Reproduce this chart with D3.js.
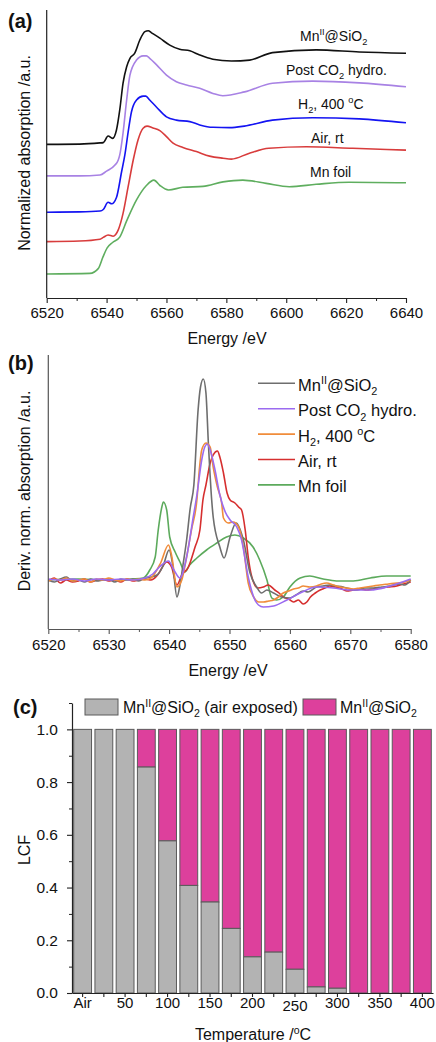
<!DOCTYPE html>
<html><head><meta charset="utf-8">
<script src="https://cdn.jsdelivr.net/npm/d3@7"></script>
<style>
body{margin:0;background:#fff}
svg{display:block}
text{font-family:"Liberation Sans",Arial,Helvetica,sans-serif;fill:#111}
</style>
</head><body>
<svg id="chart" width="436" height="1042"></svg>
<script>
// ---------------- Panel (a): XANES spectra (energy eV, normalized absorption incl. offset)
const xanesMnSiO2 = [[6520,5.12],[6531,5.13],[6537.8,5.17],[6538.9,5.18],[6540.5,5.40],[6542,5.32],[6543.3,5.60],[6544.4,6.27],[6545.5,7.16],[6546.7,7.71],[6547.8,7.99],[6549.4,8.16],[6551.1,8.60],[6552.8,8.88],[6553.9,8.91],[6555,8.84],[6557.8,8.66],[6561.1,8.43],[6564.4,8.29],[6567.8,8.24],[6571.1,8.10],[6575.5,7.96],[6581.7,7.90],[6587.8,7.93],[6595.4,8.18],[6610,8.27],[6624.4,8.20],[6640,8.16]];
const xanesPost = [[6520,4.07],[6531,4.07],[6537.8,4.10],[6540,4.23],[6542.8,4.43],[6543.9,4.60],[6544.4,4.77],[6545.5,5.50],[6546.7,6.60],[6547.8,7.43],[6550,7.93],[6552.2,8.07],[6553.3,8.07],[6554.4,7.99],[6556.7,7.77],[6560,7.43],[6563.3,7.21],[6566.7,7.10],[6571.1,6.99],[6575.5,6.82],[6578.8,6.74],[6586.1,6.87],[6595.4,7.16],[6608.8,7.23],[6624.4,7.17],[6640,7.04]];
const xanesH2 = [[6520,2.86],[6531,2.87],[6537.8,2.90],[6538.9,2.95],[6540.5,3.19],[6541.7,3.14],[6543.3,3.35],[6545,4.20],[6546.1,4.77],[6547.2,5.53],[6548.3,6.20],[6550,6.60],[6552.2,6.73],[6553.1,6.73],[6554.4,6.60],[6556.7,6.36],[6560,6.04],[6563.3,5.93],[6567.8,5.88],[6571.1,5.77],[6575.5,5.69],[6581.1,5.68],[6586,5.73],[6595.4,5.93],[6608.8,6.01],[6624.4,5.97],[6640,5.84]];
const xanesAir = [[6520,1.88],[6531,1.90],[6537.8,1.96],[6538.9,2.02],[6540.5,2.10],[6542.2,2.06],[6543.9,2.27],[6545.5,2.82],[6547.2,3.71],[6548.9,4.60],[6550.5,5.27],[6552.2,5.66],[6553.5,5.73],[6555.5,5.67],[6557.8,5.58],[6560,5.38],[6562.2,5.16],[6565.5,5.02],[6570,4.88],[6574.4,4.73],[6578.9,4.66],[6581.7,4.63],[6587.5,4.82],[6594.2,4.99],[6606.7,5.04],[6622.2,4.99],[6640,4.93]];
const xanesFoil = [[6520,0.80],[6534.4,0.82],[6537.2,0.98],[6538.8,1.37],[6540.2,1.67],[6542,1.85],[6544.4,2.03],[6546.7,2.57],[6550,3.27],[6553.3,3.75],[6555.8,3.93],[6557.8,3.75],[6560.7,3.60],[6565.4,3.69],[6572.2,3.72],[6578.9,3.87],[6585.5,3.93],[6593.3,3.82],[6601,3.71],[6610,3.79],[6621,3.86],[6640,3.84]];
const xTicksA = [6520,6540,6560,6580,6600,6620,6640];

// ---------------- Panel (b): derivative spectra
const derivMnSiO2 = [[6520,0],[6521,-0.02],[6522,0.01],[6523,0.03],[6524,-0.01],[6525,0],[6526,-0.02],[6527,0.01],[6528,-0.01],[6529,0],[6530,0.01],[6531,-0.02],[6532,0.01],[6533,0],[6534,0.01],[6535,-0.01],[6536,0.02],[6537,0.03],[6538,0.05],[6539,0.14],[6540,0.30],[6540.6,0.15],[6541.3,-0.17],[6541.8,-0.05],[6542.3,0.15],[6542.9,0.40],[6543.5,0.72],[6544.1,0.95],[6544.8,1.70],[6545.2,1.93],[6545.66,2.01],[6546.1,1.87],[6546.5,1.37],[6547.05,0.80],[6547.3,0.63],[6548.4,0.33],[6549.1,0.22],[6550.1,0.43],[6551.1,0.57],[6552.3,0.40],[6553.4,0.07],[6554.5,-0.07],[6555.3,-0.13],[6556.2,-0.10],[6557.3,-0.13],[6558.6,-0.17],[6560,-0.18],[6561,-0.15],[6562.2,-0.11],[6563,-0.12],[6564.4,-0.07],[6565.5,-0.06],[6566.6,-0.05],[6567.7,-0.06],[6568.8,-0.07],[6570,-0.09],[6571.1,-0.10],[6572.4,-0.08],[6573.8,-0.08],[6575.2,-0.07],[6576.6,-0.06],[6578.2,-0.04],[6579,-0.05],[6580,0.0]];
const derivPost = [[6520,0.01],[6522,0],[6524,0.01],[6526,-0.01],[6528,0.01],[6530,0],[6532,0.01],[6534,0],[6536,0.02],[6537.3,0.06],[6538.4,0.13],[6539.9,0.19],[6540.8,0.10],[6541.8,0.02],[6542.9,0.23],[6544,0.63],[6544.6,0.85],[6545.4,1.20],[6545.9,1.33],[6546.3,1.36],[6546.8,1.30],[6547.6,1.10],[6548.4,0.85],[6549.3,0.68],[6550.1,0.60],[6551.2,0.53],[6552,0.40],[6553.1,0.03],[6554,-0.17],[6554.8,-0.25],[6555.6,-0.27],[6557.3,-0.26],[6559.5,-0.20],[6561.7,-0.13],[6564.4,-0.07],[6567.2,-0.08],[6570,-0.10],[6573.3,-0.10],[6576.6,-0.06],[6580,0.01]];
const derivH2 = [[6520,-0.01],[6521,0.01],[6522,0],[6523,0.02],[6524,-0.01],[6525,0],[6526,0.01],[6527,-0.02],[6528,0.01],[6529,0],[6530,0.02],[6531,0],[6532,-0.01],[6533,0.01],[6534,0],[6535,0.01],[6536,0.0],[6537,0.02],[6538.6,0.17],[6539.9,0.35],[6540.4,0.25],[6541.3,-0.07],[6542.1,0],[6542.9,0.23],[6543.7,0.50],[6544.6,0.80],[6545,1.10],[6545.4,1.30],[6546.1,1.37],[6546.8,1.33],[6547.3,1.13],[6548,0.93],[6548.7,0.77],[6549,0.62],[6549.8,0.57],[6550.6,0.58],[6551.5,0.53],[6552.3,0.33],[6553.1,-0.03],[6554,-0.17],[6554.8,-0.22],[6555.6,-0.22],[6556.5,-0.21],[6557.3,-0.20],[6558.1,-0.17],[6558.9,-0.13],[6559.8,-0.11],[6560.6,-0.09],[6561.4,-0.08],[6562.2,-0.06],[6563.3,-0.07],[6564.4,-0.06],[6565.2,-0.04],[6566.1,-0.03],[6567.2,-0.05],[6568.3,-0.07],[6569.4,-0.08],[6570.5,-0.09],[6571.6,-0.08],[6572.7,-0.07],[6573.8,-0.06],[6574.9,-0.05],[6576.3,-0.04],[6577.7,-0.03],[6579,-0.02],[6580,0]];
const derivAir = [[6520,-0.01],[6521,0.02],[6522,-0.03],[6523,0],[6524,-0.02],[6525,-0.01],[6526,0.01],[6527,-0.02],[6528,0],[6529,0.01],[6530,-0.01],[6531,0],[6532,-0.02],[6533,0.01],[6534,-0.01],[6535,0],[6536,0.01],[6537,0],[6538.1,0.05],[6539.6,0.18],[6540.4,0.13],[6541.3,-0.05],[6542.1,0.05],[6543.2,0.13],[6544.3,0.33],[6545.1,0.50],[6545.6,0.80],[6546.1,0.95],[6546.8,1.17],[6547.3,1.25],[6548,1.29],[6548.4,1.23],[6549,1.07],[6549.6,0.87],[6550.1,0.80],[6550.9,0.77],[6551.5,0.73],[6552,0.70],[6552.6,0.50],[6553.1,0.23],[6553.7,0.03],[6554.7,-0.08],[6555.6,-0.07],[6556.4,-0.05],[6557.5,-0.10],[6558.2,-0.13],[6558.9,-0.17],[6559.8,-0.19],[6560.6,-0.22],[6561.4,-0.20],[6562.2,-0.24],[6562.8,-0.22],[6563.4,-0.17],[6564.2,-0.13],[6565,-0.10],[6565.8,-0.08],[6566.6,-0.06],[6567.5,-0.07],[6568.3,-0.08],[6569.4,-0.11],[6570.5,-0.10],[6571.6,-0.09],[6572.7,-0.10],[6573.8,-0.09],[6574.9,-0.08],[6576.3,-0.07],[6577.7,-0.06],[6578.8,-0.04],[6580,-0.02]];
const derivFoil = [[6520,0],[6525,0.01],[6530,0],[6534,0.01],[6535.7,0.02],[6536.8,0.10],[6537.7,0.23],[6538.2,0.50],[6538.8,0.73],[6539.05,0.78],[6539.6,0.70],[6540.1,0.43],[6541,0.28],[6541.8,0.18],[6542.6,0.08],[6543.4,0.15],[6544.6,0.22],[6546.2,0.30],[6547.9,0.37],[6549.5,0.43],[6550.9,0.45],[6552.3,0.42],[6553.9,0.33],[6555,0.20],[6556.2,0],[6557,-0.18],[6557.8,-0.20],[6558.9,-0.17],[6560,-0.07],[6561.7,0.02],[6563.3,0.04],[6565.5,0.01],[6567.7,-0.01],[6570.5,-0.01],[6573.3,0.02],[6576,0.04],[6580,0.04]];
const xTicksB = [6520,6530,6540,6550,6560,6570,6580];

// ---------------- Panel (c): LCF fractions
const temperatures = ["Air","25","50","75","100","125","150","175","200","225","250","275","300","325","350","375","400"];
const tempTickLabels = ["Air","50","100","150","200","250","300","350","400"];
const fracAirExposed = [1,1,1,0.857,0.577,0.408,0.345,0.245,0.137,0.155,0.090,0.023,0.018,0,0,0,0];
const fracMnSiO2 = [0,0,0,0.143,0.423,0.592,0.655,0.755,0.863,0.845,0.910,0.977,0.982,1,1,1,1];
const yTicksC = [0,0.2,0.4,0.6,0.8,1.0];

// ---------------- helpers
const svg = d3.select("#chart");
const FONT = '"Liberation Sans",Arial,sans-serif';

function rich(textSel, parts, fs){
  let shift = 0;
  parts.forEach(p=>{
    const target = p.sup ? -0.4*fs : (p.sub ? 0.28*fs : 0);
    const t = textSel.append("tspan").text(p.t).attr("dy", (target-shift).toFixed(2));
    if(p.sup||p.sub) t.attr("font-size", (0.66*fs).toFixed(2));
    shift = target;
  });
  return textSel;
}
const MN = [{t:"Mn"},{t:"II",sup:true},{t:"@SiO"},{t:"2",sub:true}];
const POST = [{t:"Post CO"},{t:"2",sub:true},{t:" hydro."}];
const H2 = [{t:"H"},{t:"2",sub:true},{t:", 400 "},{t:"o",sup:true},{t:"C"}];
const AIR = [{t:"Air, rt"}];
const FOIL = [{t:"Mn foil"}];

function styleAxis(g, color){
  g.selectAll("path.domain").attr("stroke", color).attr("stroke-width",1.2);
  g.selectAll(".tick line").attr("stroke", color).attr("stroke-width",1.1);
  g.selectAll(".tick text").attr("font-family",FONT).attr("fill","#111");
}

// ================= Panel (a)
{
  const x = d3.scaleLinear().domain([6520,6640]).range([46.7,406]);
  const y = d3.scaleLinear().domain([0,9.6]).range([298,10]);
  const line = d3.line().x(d=>x(d[0])).y(d=>y(d[1])).curve(d3.curveMonotoneX);
  const series = [
    {d:xanesFoil, c:"#5FAE5F"},
    {d:xanesAir, c:"#D83C3C"},
    {d:xanesH2, c:"#1414F2"},
    {d:xanesPost, c:"#A882E4"},
    {d:xanesMnSiO2, c:"#111111"}
  ];
  series.forEach(s=>svg.append("path").datum(s.d).attr("d",line)
    .attr("fill","none").attr("stroke",s.c).attr("stroke-width",1.6));

  const gx = svg.append("g").attr("transform",`translate(0,${y.range()[0]})`)
    .call(d3.axisBottom(x).tickValues(xTicksA).tickFormat(d3.format("d")).tickSize(5).tickPadding(4.5).tickSizeOuter(0));
  gx.selectAll(".tick text").attr("font-size",15);
  styleAxis(gx,"#222");
  svg.append("g").attr("transform",`translate(0,${y.range()[0]})`)
    .call(d3.axisBottom(x).tickValues([6530,6550,6570,6590,6610,6630]).tickFormat("").tickSize(3).tickSizeOuter(0))
    .call(g=>{g.select("path.domain").remove(); g.selectAll("line").attr("stroke","#222");});
  svg.append("line").attr("x1",x.range()[0]).attr("x2",x.range()[0]).attr("y1",y.range()[0]).attr("y2",y.range()[1])
    .attr("stroke","#222").attr("stroke-width",1.2);

  const labs = [[MN,300,41],[POST,286,75],[H2,298,109],[AIR,311,143],[FOIL,310,177]];
  labs.forEach(l=>rich(svg.append("text").attr("x",l[1]).attr("y",l[2]).attr("font-size",14),l[0],14));

  svg.append("text").attr("x",227).attr("y",344).attr("text-anchor","middle").attr("font-size",16).text("Energy /eV");
  svg.append("text").attr("transform","translate(30,153) rotate(-90)").attr("text-anchor","middle").attr("font-size",16).text("Normalized absorption /a.u.");
  svg.append("text").attr("x",8).attr("y",28).attr("font-size",20).attr("font-weight","bold").text("(a)");
}

// ================= Panel (b)
{
  const x = d3.scaleLinear().domain([6520,6580]).range([48.3,410.7]);
  const y = d3.scaleLinear().domain([-0.49,2.25]).range([629,355]);
  const line = d3.line().x(d=>x(d[0])).y(d=>y(d[1])).curve(d3.curveMonotoneX);
  const series = [
    {d:derivFoil, c:"#5CAA5C"},
    {d:derivAir, c:"#D62F2F"},
    {d:derivMnSiO2, c:"#6E6E6E"},
    {d:derivH2, c:"#F08C3A"},
    {d:derivPost, c:"#9B6BF0"}
  ];
  series.forEach(s=>svg.append("path").datum(s.d).attr("d",line)
    .attr("fill","none").attr("stroke",s.c).attr("stroke-width",1.6));

  const gx = svg.append("g").attr("transform",`translate(0,${y.range()[0]})`)
    .call(d3.axisBottom(x).tickValues(xTicksB).tickFormat(d3.format("d")).tickSize(5).tickPadding(5.3).tickSizeOuter(0));
  gx.selectAll(".tick text").attr("font-size",15);
  styleAxis(gx,"#555");
  svg.append("g").attr("transform",`translate(0,${y.range()[0]})`)
    .call(d3.axisBottom(x).tickValues([6525,6535,6545,6555,6565,6575]).tickFormat("").tickSize(3).tickSizeOuter(0))
    .call(g=>{g.select("path.domain").remove(); g.selectAll("line").attr("stroke","#555");});
  svg.append("line").attr("x1",x.range()[0]).attr("x2",x.range()[0]).attr("y1",y.range()[0]).attr("y2",y.range()[1])
    .attr("stroke","#555").attr("stroke-width",1.2);

  // legend
  const legOrder = [
    {c:"#6E6E6E", lab:MN},{c:"#9B6BF0", lab:POST},{c:"#F08C3A", lab:H2},{c:"#D62F2F", lab:AIR},{c:"#5CAA5C", lab:FOIL}
  ];
  legOrder.forEach((l,i)=>{
    const ly = 383.3 + i*25.4;
    svg.append("line").attr("x1",258).attr("x2",295).attr("y1",ly).attr("y2",ly).attr("stroke",l.c).attr("stroke-width",1.6);
    rich(svg.append("text").attr("x",298).attr("y",ly+7.5).attr("font-size",16.5), l.lab, 16.5);
  });

  svg.append("text").attr("x",228).attr("y",676).attr("text-anchor","middle").attr("font-size",16).text("Energy /eV");
  svg.append("text").attr("transform","translate(30,491) rotate(-90)").attr("text-anchor","middle").attr("font-size",16).text("Deriv. norm. absorption /a.u.");
  svg.append("text").attr("x",8).attr("y",370).attr("font-size",20).attr("font-weight","bold").text("(b)");
}

// ================= Panel (c)
{
  const x = d3.scaleBand().domain(temperatures).range([72,433]).paddingInner(0.16).paddingOuter(0.08);
  const y = d3.scaleLinear().domain([0,1.1]).range([993,703]);
  const bars = svg.append("g");
  temperatures.forEach((t,i)=>{
    const a = fracAirExposed[i], m = fracMnSiO2[i];
    if(m>0) bars.append("rect").attr("x",x(t)).attr("width",x.bandwidth())
      .attr("y",y(a+m)).attr("height",y(a)-y(a+m)).attr("fill","#DD409C").attr("stroke","#5a5a5a").attr("stroke-width",1);
    if(a>0) bars.append("rect").attr("x",x(t)).attr("width",x.bandwidth())
      .attr("y",y(a)).attr("height",y(0)-y(a)).attr("fill","#B3B3B3").attr("stroke","#5a5a5a").attr("stroke-width",1);
  });

  const gx = svg.append("g").attr("transform",`translate(0,${y.range()[0]})`)
    .call(d3.axisBottom(x).tickFormat(d=>tempTickLabels.includes(d)?d:"").tickSize(4).tickPadding(0).tickSizeOuter(0));
  gx.selectAll(".tick text").attr("font-size",15).attr("dy", d=>d==="250"?"0.95em":"0.71em");
  styleAxis(gx,"#222");
  const gy = svg.append("g").attr("transform",`translate(${x.range()[0]},0)`)
    .call(d3.axisLeft(y).tickValues(yTicksC).tickFormat(d3.format(".1f")).tickSize(5).tickPadding(9).tickSizeOuter(0));
  gy.selectAll(".tick text").attr("font-size",15.5);
  styleAxis(gy,"#222");
  svg.append("g").attr("transform",`translate(${x.range()[0]},0)`)
    .call(d3.axisLeft(y).tickValues([0.1,0.3,0.5,0.7,0.9,1.1]).tickFormat("").tickSize(3).tickSizeOuter(0))
    .call(g=>{g.select("path.domain").remove(); g.selectAll("line").attr("stroke","#222");});

  // legend
  svg.append("rect").attr("x",85).attr("y",699).attr("width",33).attr("height",16).attr("fill","#B3B3B3").attr("stroke","#5a5a5a");
  rich(svg.append("text").attr("x",123).attr("y",713).attr("font-size",16), MN.concat([{t:" (air exposed)"}]), 16);
  svg.append("rect").attr("x",303).attr("y",699).attr("width",33).attr("height",16).attr("fill","#DD409C").attr("stroke","#5a5a5a");
  rich(svg.append("text").attr("x",340).attr("y",713).attr("font-size",16), MN, 16);

  svg.append("text").attr("x",253).attr("y",1040).attr("text-anchor","middle").attr("font-size",16)
    .call(t=>rich(t,[{t:"Temperature /"},{t:"o",sup:true},{t:"C"}],16));
  svg.append("text").attr("transform","translate(30,850) rotate(-90)").attr("text-anchor","middle").attr("font-size",16).text("LCF");
  svg.append("text").attr("x",13).attr("y",714).attr("font-size",20).attr("font-weight","bold").text("(c)");
}
</script>
</body></html>
